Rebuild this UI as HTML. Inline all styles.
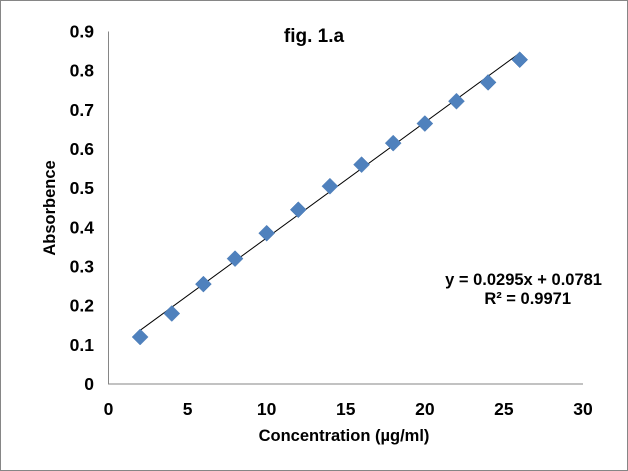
<!DOCTYPE html>
<html><head><meta charset="utf-8"><style>
body{margin:0;background:#fff}
svg{display:block;font-family:"Liberation Sans",Arial,sans-serif;font-weight:bold}
</style></head><body>
<svg id="chart" width="628" height="471" viewBox="0 0 628 471">
<rect x="0.5" y="0.5" width="627" height="470" fill="#fff" stroke="#868686"/>
<text x="314" y="42" font-size="19" text-anchor="middle">fig. 1.a</text>
<g id="plot"></g>
<text x="602" y="285" font-size="16.5" text-anchor="end">y = 0.0295x + 0.0781</text>
<text x="571" y="304" font-size="16.5" text-anchor="end">R² = 0.9971</text>
<text x="344" y="441" font-size="16.5" text-anchor="middle">Concentration (µg/ml)</text>
<text transform="translate(55,208) rotate(-90)" font-size="16.5" text-anchor="middle">Absorbence</text>
</svg>
<script>
const concentrations=[2,4,6,8,10,12,14,16,18,20,22,24,26];
const absorbances=[0.12,0.18,0.255,0.32,0.385,0.445,0.505,0.56,0.615,0.665,0.722,0.77,0.828];
const xTicks=[0,5,10,15,20,25,30];
const yTicks=[0,0.1,0.2,0.3,0.4,0.5,0.6,0.7,0.8,0.9];
const slope=0.0295, intercept=0.0781;
const NS="http://www.w3.org/2000/svg";
const X0=108.5,X1=583,Y0=384,Y1=31.5;
const sx=v=>X0+(v/30)*(X1-X0);
const sy=v=>Y0-(v/0.9)*(Y0-Y1);
const g=document.getElementById('plot');
function mk(t,a){const e=document.createElementNS(NS,t);for(const k in a)e.setAttribute(k,a[k]);g.appendChild(e);return e;}
let ax=mk('path',{d:`M${X0},${Y1}V${Y0}H${X1}`,fill:'none',stroke:'#868686','stroke-width':1});


xTicks.forEach(t=>{const e=mk('text',{x:sx(t),y:415,'font-size':17.5,'text-anchor':'middle'});e.textContent=t;

});
yTicks.forEach(t=>{const e=mk('text',{x:94,y:sy(t)+6,'font-size':17.5,'text-anchor':'end'});e.textContent=t===0?'0':t.toFixed(1);

});
const xa=concentrations[0],xb=concentrations[concentrations.length-1];
let tl=mk('line',{x1:sx(xa),y1:sy(slope*xa+intercept),x2:sx(xb),y2:sy(slope*xb+intercept),stroke:'#000','stroke-width':1});


concentrations.forEach((c,i)=>{const x=sx(c),y=sy(absorbances[i]);
const p=mk('path',{d:`M${x},${y-8}L${x+8},${y}L${x},${y+8}L${x-8},${y}Z`,fill:'#4f81bd',stroke:'#4a7ab5','stroke-width':0.5});

});
</script>
</body></html>
